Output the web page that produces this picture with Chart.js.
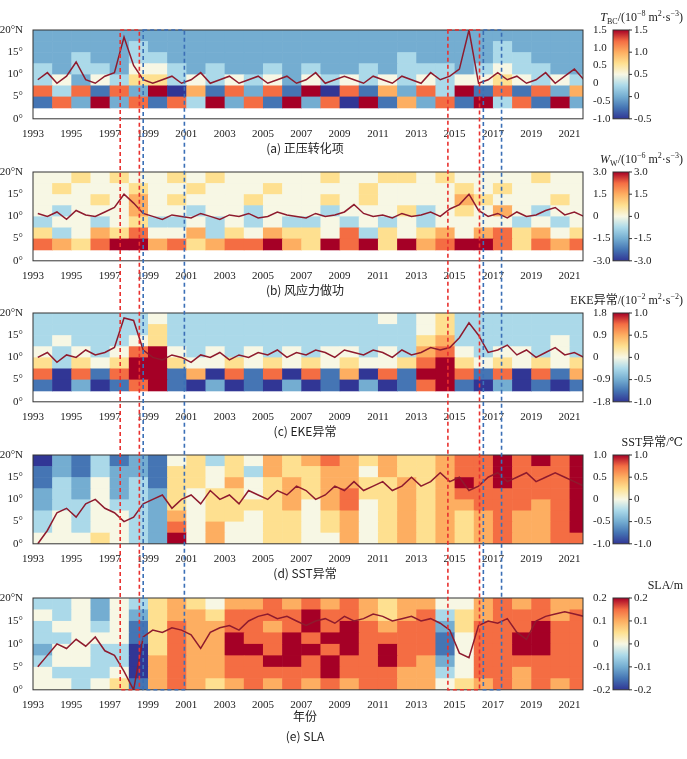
<!DOCTYPE html>
<html><head><meta charset="utf-8">
<script src="https://cdn.jsdelivr.net/npm/chart.js@4/dist/chart.umd.min.js"></script>
<style>
body{margin:0;background:#fff;width:687px;height:759px;position:relative;overflow:hidden}
.p{position:absolute;left:0;width:687px}
#ov{position:absolute;left:0;top:0;pointer-events:none}
</style></head><body>
<div class="p" id="pa" style="top:0;height:166px"><canvas id="ca"></canvas></div>
<div class="p" id="pb" style="top:142px;height:166px"><canvas id="cb"></canvas></div>
<div class="p" id="pc" style="top:283px;height:166px"><canvas id="cc"></canvas></div>
<div class="p" id="pd" style="top:425px;height:166px"><canvas id="cd"></canvas></div>
<div class="p" id="pe" style="top:568px;height:191px"><canvas id="ce"></canvas></div>
<canvas id="ov" width="687" height="759"></canvas>
<script>
// heatmap rows, top (17.5-20°) to bottom (0-2.5°), one char per year 1993..2021, 0=most negative, 4=zero, 8=most positive
const gridA = ["22222222222222222222222222222","22222322222222222222222232222","22322332222222222223222233222","32332443232232322323332343322","34243553434342434343434454343","73717280617271807162738171726","17282717382718270816271837182","............................."];
const gridB = ["44545445454444454455454444544","45444544544454444544445454444","44454645444544454544446544454","43444644344344434445345464344","34434533434343343434344443434","53465744635465547354564675645","76578867567786587858678875767","............................."];
const gridC = ["33333343333333333343453333333","33333353333333333333453333333","34333453333333333333563333343","43434784343434344343674344343","53545885445454545445785454545","70717881607170716071887170716","10201781020102010201781020101","............................."];
const gridD = ["02131214535465676565567787878","12132215545365566465567787778","13242315546456566556568787778","23242325455456567556567777778","23343325455556467456566777678","34344326455455456456565676678","34344327464455456456565676678","44454328464455446456565676677"];
const gridE = ["33424356546676767656644676766","43424256657777877656735677767","34434157667767878767725777877","33444157668778788777714778877","24433057668878878787714778877","34433067667788787787624777777","43334067667777787776634776777","44345167656767676776645676767"];

// line series, half-yearly from 1993.0, in right-axis units
const lineA = [0.1,0.3,0.0,0.2,0.6,0.1,0.0,0.2,0.3,1.3,0.5,0.1,0.0,0.1,0.2,0.0,0.1,0.3,0.0,0.1,0.2,0.0,0.1,0.2,0.0,0.1,0.2,0.0,0.1,0.3,0.0,0.1,0.2,0.1,0.0,0.2,0.1,0.0,0.2,0.1,0.0,0.3,0.1,0.2,0.4,1.5,0.0,0.1,0.3,0.1,0.2,0.0,0.1,0.3,0.0,0.2,0.4,0.1];
const lineB = [0.2,0.0,0.3,-0.2,0.4,0.1,0.0,0.3,0.6,1.5,0.9,0.2,0.0,-0.2,0.1,0.0,-0.1,0.2,0.0,-0.2,0.1,0.0,0.2,-0.1,0.0,0.3,0.1,0.0,-0.1,0.2,0.0,0.1,0.3,0.8,0.2,0.0,0.1,-0.1,0.2,0.0,0.1,0.3,0.0,0.5,0.8,1.5,0.4,0.0,0.2,-0.1,0.3,0.0,0.1,0.4,0.6,0.1,0.3,0.0];
const lineC = [0.0,0.2,-0.2,0.1,0.0,0.3,0.1,0.2,0.4,1.6,1.5,0.3,0.0,-0.1,0.1,0.0,-0.2,0.1,0.0,0.2,-0.1,0.1,0.0,0.2,0.1,0.3,0.0,0.2,0.1,0.3,0.2,0.0,0.3,0.2,0.1,0.3,0.2,0.0,0.3,0.1,0.2,0.4,0.3,0.4,0.8,1.4,0.9,0.2,0.3,0.5,0.1,0.3,0.0,0.2,0.4,0.1,0.2,0.0];
const lineD = [-1.0,-0.7,-0.3,-0.2,-0.4,-0.1,0.0,-0.2,-0.3,-0.5,-0.4,-0.1,0.0,0.1,-0.2,0.0,0.1,-0.1,0.2,0.0,0.1,-0.1,0.2,0.1,0.0,0.2,0.1,0.3,0.2,0.0,0.1,0.3,0.2,0.4,0.2,0.3,0.4,0.2,0.3,0.5,0.3,0.4,0.6,0.4,0.5,0.2,0.3,0.5,0.6,0.4,0.5,0.6,0.4,0.5,0.6,0.5,0.4,0.3];
const lineE = [-0.1,-0.05,0.0,-0.02,0.02,-0.01,0.03,-0.03,-0.05,-0.12,-0.2,0.03,0.06,0.05,0.07,0.06,0.04,-0.02,0.05,0.07,0.08,0.06,0.1,0.12,0.13,0.11,0.12,0.1,0.08,0.1,0.11,0.09,0.12,0.1,0.11,0.13,0.12,0.1,0.11,0.12,0.1,0.11,0.09,0.06,-0.04,-0.06,0.08,0.1,0.09,0.11,0.05,0.02,0.1,0.12,0.13,0.14,0.13,0.12];

const rightTicksA = [-1, -0.5, 0, 0.5, 1, 1.5];
const rightTicksB = [-3, -1.5, 0, 1.5, 3];
const rightTicksC = [-1.8, -0.9, 0, 0.9, 1.8];
const rightTicksD = [-1, -0.5, 0, 0.5, 1];
const rightTicksE = [-0.2, -0.1, 0, 0.1, 0.2];
const barTicksA = [-0.5, 0, 0.5, 1, 1.5];
const barTicksB = [-3, -1.5, 0, 1.5, 3];
const barTicksC = [-1, -0.5, 0, 0.5, 1];
const barTicksD = [-1, -0.5, 0, 0.5, 1];
const barTicksE = [-0.2, -0.1, 0, 0.1, 0.2];
const yearTicks = [1993,1995,1997,1999,2001,2003,2005,2007,2009,2011,2013,2015,2017,2019,2021];
const latTicks = [0,5,10,15,20];

// dashed boxes [from, to, colour]
const boxes = [[1997.55,1998.55,'#e8312f'],[1998.75,2000.9,'#3b6fb6'],[2014.65,2016.3,'#e8312f'],[2016.5,2017.45,'#3b6fb6']];

const cmap = ['#313695','#4575b4','#74add1','#abd9e9','#f7f7e4','#fee090','#fdae61','#f46d43','#a50026'];
const SERIF = '"Liberation Serif", "DejaVu Serif", serif';
const CJK = '"Noto Sans CJK SC", sans-serif';

function fmt(v){ return v === 0 ? '0' : v.toFixed(1); }

const heatPlugin = {
  id: 'heat',
  beforeDatasetsDraw(chart, args, o) {
    const ctx = chart.ctx, x = chart.scales.x, y = chart.scales.y, a = chart.chartArea;
    ctx.save();
    ctx.beginPath(); ctx.rect(a.left, a.top, a.right - a.left, a.bottom - a.top); ctx.clip();
    const n = o.grid.length, dy = 20 / n;
    o.grid.forEach((row, r) => {
      for (let c = 0; c < row.length; c++) {
        const ch = row[c]; if (ch === '.') continue;
        const x0 = x.getPixelForValue(1993 + c), x1 = x.getPixelForValue(1994 + c);
        const y0 = y.getPixelForValue(20 - r * dy), y1 = y.getPixelForValue(20 - (r + 1) * dy);
        ctx.fillStyle = cmap[+ch];
        ctx.fillRect(x0, y0, x1 - x0 + 0.6, y1 - y0 + 0.6);
      }
    });
    ctx.restore();
  },
  afterDraw(chart, args, o) {
    const ctx = chart.ctx, a = chart.chartArea;
    ctx.save();
    ctx.strokeStyle = '#333'; ctx.lineWidth = 1;
    ctx.strokeRect(a.left, a.top, a.right - a.left, a.bottom - a.top);
    // colourbar
    const bx = 613, bw = 16;
    const g = ctx.createLinearGradient(0, a.bottom, 0, a.top);
    cmap.forEach((c, i) => g.addColorStop(i / (cmap.length - 1), c));
    ctx.fillStyle = g; ctx.fillRect(bx, a.top, bw, a.bottom - a.top);
    ctx.strokeRect(bx, a.top, bw, a.bottom - a.top);
    const t = o.bar, lo = t[0], hi = t[t.length - 1];
    ctx.fillStyle = '#222'; ctx.font = '11px ' + SERIF; ctx.textBaseline = 'middle'; ctx.textAlign = 'left';
    t.forEach(v => {
      const py = a.bottom - (v - lo) / (hi - lo) * (a.bottom - a.top);
      ctx.beginPath(); ctx.moveTo(bx + bw, py); ctx.lineTo(bx + bw + 3, py); ctx.stroke();
      ctx.fillText(fmt(v), bx + bw + 5, py);
    });
    // colourbar title (rich text segments)
    ctx.textBaseline = 'alphabetic';
    const fnt = s => (s.i ? 'italic ' : '') + (s.sub || s.sup ? '8px ' : '12px ') + (s.cjk ? CJK : SERIF);
    let w = 0;
    o.title.forEach(s => { ctx.font = fnt(s); w += ctx.measureText(s.t).width; });
    let px = 683 - w, py = a.top - 9;
    o.title.forEach(s => {
      ctx.font = fnt(s);
      ctx.fillText(s.t, px, py + (s.sub ? 3 : s.sup ? -5 : 0));
      px += ctx.measureText(s.t).width;
    });
    // caption
    ctx.textAlign = 'center'; ctx.font = '12px ' + CJK;
    if (o.xlabel) { ctx.fillText(o.xlabel, 305, a.bottom + 31); }
    ctx.fillText(o.caption, 305, a.bottom + (o.xlabel ? 51 : 34));
    ctx.restore();
  }
};

function makePanel(id, grid, line, rt, bt, title, caption, xlabel) {
  const pts = line.map((v, i) => ({x: 1993 + i * 0.5 + 0.25, y: v}));
  return new Chart(document.getElementById(id), {
    type: 'line',
    data: { datasets: [{ data: pts, yAxisID: 'y2', borderColor: '#8e1b2e', borderWidth: 1.5, pointRadius: 0, tension: 0 }] },
    options: {
      animation: false, responsive: true, maintainAspectRatio: false,
      layout: { padding: { top: 30, right: 76, bottom: xlabel ? 46 : 24, left: 0 } },
      plugins: { legend: { display: false }, tooltip: { enabled: false },
        heat: { grid: grid, bar: bt, title: title, caption: caption, xlabel: xlabel } },
      scales: {
        x: { type: 'linear', min: 1993, max: 2021.7, grid: { display: false },
          afterBuildTicks: s => { s.ticks = yearTicks.map(v => ({value: v})); },
          ticks: { callback: v => String(v), font: { family: SERIF, size: 11 }, color: '#222', maxRotation: 0, autoSkip: false, padding: 1 },
          border: { display: false } },
        y: { min: 0, max: 20, position: 'left', grid: { display: false },
          afterBuildTicks: s => { s.ticks = latTicks.map(v => ({value: v})); },
          afterFit: s => { s.width = 33; },
          ticks: { callback: v => v === 20 ? '20°N' : v + '°', font: { family: SERIF, size: 11 }, color: '#222', padding: 2 },
          border: { display: false } },
        y2: { min: rt[0], max: rt[rt.length - 1], position: 'right', grid: { display: false },
          afterBuildTicks: s => { s.ticks = rt.map(v => ({value: v})); },
          afterFit: s => { s.width = 28; },
          ticks: { callback: v => fmt(v), font: { family: SERIF, size: 11 }, color: '#222', padding: 2 },
          border: { display: false } }
      }
    },
    plugins: [heatPlugin]
  });
}

const charts = [
  makePanel('ca', gridA, lineA, rightTicksA, barTicksA, [{t:'T',i:1},{t:'BC',sub:1},{t:'/(10'},{t:'−8',sup:1},{t:' m'},{t:'2',sup:1},{t:'·s'},{t:'−3',sup:1},{t:')'}], '(a) 正压转化项'),
  makePanel('cb', gridB, lineB, rightTicksB, barTicksB, [{t:'W',i:1},{t:'W',sub:1},{t:'/(10'},{t:'−6',sup:1},{t:' m'},{t:'2',sup:1},{t:'·s'},{t:'−3',sup:1},{t:')'}], '(b) 风应力做功'),
  makePanel('cc', gridC, lineC, rightTicksC, barTicksC, [{t:'EKE'},{t:'异常',cjk:1},{t:'/(10'},{t:'−2',sup:1},{t:' m'},{t:'2',sup:1},{t:'·s'},{t:'−2',sup:1},{t:')'}], '(c) EKE异常'),
  makePanel('cd', gridD, lineD, rightTicksD, barTicksD, [{t:'SST'},{t:'异常',cjk:1},{t:'/℃'}], '(d) SST异常'),
  makePanel('ce', gridE, lineE, rightTicksE, barTicksE, [{t:'SLA/m'}], '(e) SLA', '年份')
];

// dashed event boxes spanning all panels
const ov = document.getElementById('ov').getContext('2d');
const ca = charts[0], ce = charts[4];
const topY = ca.chartArea.top, botY = 568 + ce.chartArea.bottom;
ov.lineWidth = 1.6; ov.setLineDash([4, 3]);
boxes.forEach(b => {
  const x0 = ca.scales.x.getPixelForValue(b[0]), x1 = ca.scales.x.getPixelForValue(b[1]);
  ov.strokeStyle = b[2];
  ov.strokeRect(x0, topY, x1 - x0, botY - topY);
});
</script>
</body></html>
